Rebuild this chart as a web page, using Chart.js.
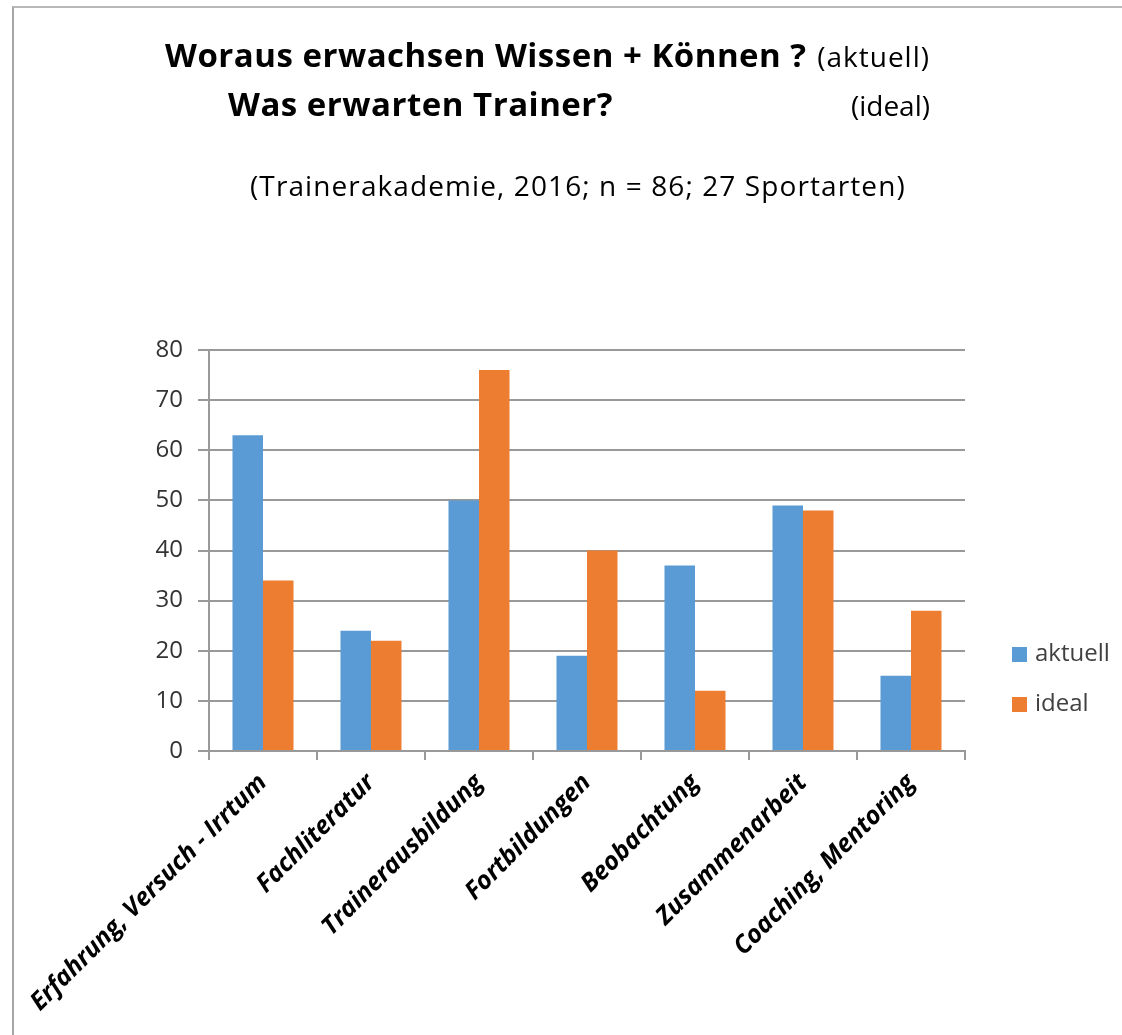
<!DOCTYPE html>
<html>
<head>
<meta charset="utf-8">
<script src="https://cdn.jsdelivr.net/npm/chart.js@4.4.1/dist/chart.umd.min.js"></script>
<style>
  html, body { margin: 0; padding: 0; background: #fff; }
  body { width: 1122px; height: 1035px; position: relative; overflow: hidden; font-family: "Open Sans", sans-serif; }
  #frame { position: absolute; left: 12px; top: 6px; width: 1200px; height: 1100px; border-left: 2px solid #a6a6a6; border-top: 2px solid #b8b8b8; }
  #chart { position: absolute; left: 0; top: 0; }
  .t { position: absolute; line-height: 1; white-space: nowrap; color: #000; }
  .b { font-weight: bold; font-size: 33px; letter-spacing: 0.5px; }
  .n { font-size: 28px; }
  .s { font-size: 28px; letter-spacing: 1.1px; }
  #legend { position: absolute; left: 1012px; top: 640px; }
  .item { position: relative; height: 50px; font-size: 24px; line-height: 1; color: #404040; }
  .item .sw { position: absolute; left: 0; top: 7px; width: 15px; height: 15px; }
  .item .lb { position: absolute; left: 23px; top: 0; }
</style>
</head>
<body>
<div id="frame"></div>
<canvas id="chart" width="1122" height="1035"></canvas>
<div class="t b" style="left:165px; top:38px;">Woraus erwachsen Wissen + Können ?</div>
<div class="t n" style="right:192px; top:42px; letter-spacing:1px;">(aktuell)</div>
<div class="t b" style="left:228px; top:87px;">Was erwarten Trainer?</div>
<div class="t n" style="right:192px; top:91px;">(ideal)</div>
<div class="t s" style="left:250px; top:171px;">(Trainerakademie, 2016; n = 86; 27 Sportarten)</div>
<div id="legend"></div>
<script>
const categories = ["Erfahrung, Versuch - Irrtum", "Fachliteratur", "Trainerausbildung", "Fortbildungen", "Beobachtung", "Zusammenarbeit", "Coaching, Mentoring"];
const aktuell = [63, 24, 50, 19, 37, 49, 15];
const ideal = [34, 22, 76, 40, 12, 48, 28];
const seriesNames = ["aktuell", "ideal"];
const seriesColors = ["#5B9BD5", "#ED7D31"];
const yMin = 0, yMax = 80, yStep = 10;

const gridColor = "#999999";

new Chart(document.getElementById("chart"), {
  type: "bar",
  data: {
    labels: categories,
    datasets: [
      { label: seriesNames[0], data: aktuell, backgroundColor: seriesColors[0] },
      { label: seriesNames[1], data: ideal, backgroundColor: seriesColors[1] },
    ],
  },
  options: {
    responsive: false,
    animation: false,
    devicePixelRatio: 1,
    layout: { padding: { top: 350, right: 157, bottom: 0, left: 0 } },
    datasets: { bar: { barPercentage: 1, categoryPercentage: 0.565 } },
    plugins: {
      legend: { display: false },
      tooltip: { enabled: false },
    },
    scales: {
      x: {
        grid: { drawOnChartArea: false, drawTicks: true, tickLength: 9, color: gridColor, lineWidth: 2, offset: true },
        border: { color: gridColor, width: 2 },
        ticks: {
          autoSkip: false,
          maxRotation: 45,
          minRotation: 45,
          padding: 8,
          color: "#000",
          font: { family: "Open Sans", size: 25, weight: "bold", style: "italic" },
        },
        afterFit: (scale) => { scale.height = 284; },
      },
      y: {
        min: yMin,
        max: yMax,
        grid: { color: gridColor, lineWidth: 2, tickLength: 11 },
        border: { color: gridColor, width: 2 },
        ticks: {
          stepSize: yStep,
          padding: 15,
          color: "#333",
          font: { family: "Open Sans", size: 24 },
        },
        afterFit: (scale) => { scale.width = 209; },
      },
    },
  },
});

// legend next to the plot
const legend = document.getElementById("legend");
seriesNames.forEach((name, i) => {
  const item = document.createElement("div");
  item.className = "item";
  item.innerHTML = `<span class="sw" style="background:${seriesColors[i]}"></span><span class="lb">${name}</span>`;
  legend.appendChild(item);
});
</script>
</body>
</html>
